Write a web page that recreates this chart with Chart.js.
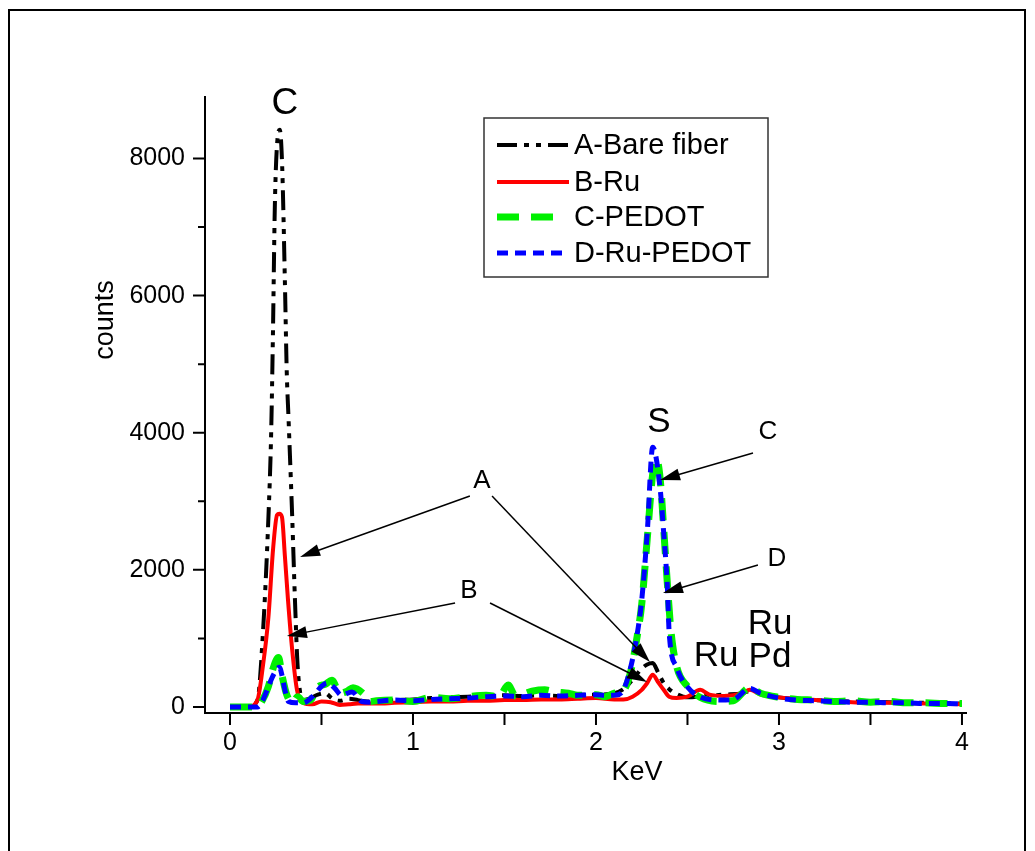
<!DOCTYPE html>
<html>
<head>
<meta charset="utf-8">
<script src="https://cdn.jsdelivr.net/npm/chart.js@4.4.1/dist/chart.umd.min.js"></script>
<style>
  html, body { margin: 0; padding: 0; background: #fff; }
  #wrap { width: 1035px; height: 851px; position: relative; }
</style>
</head>
<body>
<div id="wrap"><canvas id="edsChart"></canvas></div>
<script>
// EDS spectra (KeV vs counts)
const keV_A = [0, 0.05, 0.10, 0.15, 0.18, 0.21, 0.225, 0.235, 0.245, 0.26, 0.272, 0.285, 0.30, 0.31, 0.32, 0.34, 0.355, 0.37, 0.40, 0.44, 0.48, 0.52, 0.56, 0.60, 0.65, 0.70, 0.75, 0.80, 0.90, 1.0, 1.1, 1.2, 1.3, 1.4, 1.5, 1.6, 1.7, 1.8, 1.9, 2.0, 2.1, 2.15, 2.2, 2.25, 2.28, 2.31, 2.34, 2.37, 2.40, 2.44, 2.5, 2.6, 2.7, 2.8, 2.85, 2.9, 3.0, 3.2, 3.4, 3.6, 3.8, 4.0];
const counts_A = [0, 0, 0, 100, 1080, 2770, 4000, 5500, 7300, 8300, 8420, 7900, 6200, 4900, 4200, 2770, 1560, 580, 100, 130, 180, 200, 120, 90, 120, 100, 80, 80, 100, 110, 130, 140, 150, 160, 170, 160, 170, 160, 180, 180, 200, 260, 400, 560, 620, 640, 500, 350, 260, 190, 140, 160, 180, 200, 240, 200, 140, 100, 80, 70, 60, 50];

const keV_B = [0, 0.05, 0.10, 0.15, 0.18, 0.21, 0.235, 0.257, 0.27, 0.284, 0.30, 0.317, 0.34, 0.366, 0.40, 0.45, 0.5, 0.55, 0.6, 0.65, 0.7, 0.8, 0.9, 1.0, 1.1, 1.2, 1.3, 1.4, 1.5, 1.6, 1.7, 1.8, 1.9, 2.0, 2.1, 2.15, 2.2, 2.25, 2.28, 2.31, 2.34, 2.37, 2.40, 2.44, 2.5, 2.57, 2.62, 2.7, 2.8, 2.84, 2.9, 3.0, 3.2, 3.4, 3.6, 3.8, 4.0];
const counts_B = [0, 0, 0, 100, 600, 1310, 2290, 2800, 2820, 2770, 2200, 1560, 830, 250, 60, 40, 80, 70, 30, 40, 50, 50, 60, 70, 80, 80, 90, 90, 100, 100, 110, 110, 120, 130, 110, 110, 150, 250, 350, 470, 360, 250, 150, 130, 150, 250, 180, 160, 200, 250, 180, 140, 100, 70, 60, 50, 40];

const keV_C = [0, 0.05, 0.10, 0.15, 0.17, 0.21, 0.24, 0.265, 0.285, 0.31, 0.34, 0.37, 0.40, 0.44, 0.48, 0.52, 0.557, 0.6, 0.64, 0.672, 0.727, 0.765, 0.8, 0.9, 1.0, 1.1, 1.2, 1.3, 1.4, 1.47, 1.52, 1.56, 1.65, 1.72, 1.78, 1.85, 1.9, 2.0, 2.05, 2.1, 2.15, 2.19, 2.22, 2.25, 2.28, 2.31, 2.33, 2.35, 2.37, 2.39, 2.41, 2.44, 2.5, 2.57, 2.68, 2.75, 2.84, 2.9, 3.0, 3.1, 3.2, 3.3, 3.4, 3.5, 3.6, 3.7, 3.8, 3.9, 4.0];
const counts_C = [0, 0, 0, 0, 60, 300, 600, 720, 450, 180, 60, 150, 80, 100, 290, 330, 390, 200, 230, 280, 200, 80, 90, 100, 80, 140, 120, 150, 170, 150, 320, 160, 230, 250, 220, 200, 170, 180, 150, 200, 240, 520, 950, 1500, 2450, 3400, 3620, 3350, 2600, 1800, 1100, 600, 300, 140, 80, 90, 280, 200, 140, 110, 100, 80, 90, 70, 80, 60, 60, 50, 50];

const keV_D = [0, 0.05, 0.10, 0.15, 0.18, 0.21, 0.24, 0.27, 0.285, 0.30, 0.32, 0.36, 0.40, 0.45, 0.5, 0.53, 0.57, 0.61, 0.667, 0.72, 0.76, 0.8, 0.9, 1.0, 1.1, 1.2, 1.3, 1.4, 1.5, 1.6, 1.7, 1.8, 1.9, 2.0, 2.05, 2.11, 2.15, 2.186, 2.22, 2.25, 2.28, 2.31, 2.35, 2.37, 2.39, 2.40, 2.44, 2.5, 2.57, 2.68, 2.75, 2.84, 2.9, 3.0, 3.1, 3.2, 3.3, 3.4, 3.5, 3.6, 3.7, 3.8, 3.9, 4.0];
const counts_D = [0, 0, 0, 0, 100, 300, 480, 580, 450, 250, 80, 60, 60, 150, 300, 350, 280, 170, 220, 80, 70, 80, 100, 90, 110, 120, 130, 150, 160, 150, 170, 160, 170, 180, 170, 175, 250, 540, 980, 1560, 2540, 3790, 3200, 2540, 1750, 1080, 580, 290, 146, 100, 110, 270, 200, 130, 100, 90, 80, 70, 70, 60, 60, 50, 50, 45];

const seriesNames = ["A-Bare fiber", "B-Ru", "C-PEDOT", "D-Ru-PEDOT"];
const xTickLabels = [0, 1, 2, 3, 4];
const yTickLabels = [0, 2000, 4000, 6000, 8000];

// text labels placed in data units [keV, counts]
const peakLabels = [
  { text: "C", x: 0.30, y: 8800, size: 37 },
  { text: "S", x: 2.344, y: 4150, size: 35 },
  { text: "Ru", x: 2.656, y: 740, size: 35 },
  { text: "Ru", x: 2.951, y: 1210, size: 35 },
  { text: "Pd", x: 2.951, y: 730, size: 35 },
  { text: "A", x: 1.377, y: 3296, size: 26 },
  { text: "B", x: 1.306, y: 1692, size: 26 },
  { text: "C", x: 2.940, y: 4011, size: 26 },
  { text: "D", x: 2.989, y: 2159, size: 26 }
];
const arrows = [
  [1.311, 3077, 0.383, 2188],
  [1.230, 1517, 0.311, 1036],
  [1.432, 3077, 2.295, 656],
  [1.421, 1517, 2.279, 365],
  [2.858, 3705, 2.350, 3311],
  [2.885, 2071, 2.366, 1663]
];

function toPoints(xs, ys) {
  return xs.map((x, i) => ({ x: x, y: ys[i] }));
}

const FONT = "'Liberation Sans', Arial, sans-serif";

const styleA = { borderColor: "#000000", borderWidth: 4, borderDash: [20, 7, 5, 7, 5, 7] };
const styleB = { borderColor: "#ff0000", borderWidth: 4, borderDash: [] };
const styleC = { borderColor: "#00f000", borderWidth: 7, borderDash: [22, 12] };
const styleD = { borderColor: "#0000ff", borderWidth: 5, borderDash: [11, 7] };
const styles = [styleA, styleB, styleC, styleD];

function drawArrow(ctx, x1, y1, x2, y2) {
  const ang = Math.atan2(y2 - y1, x2 - x1);
  const len = 20, half = 6;
  ctx.beginPath();
  ctx.moveTo(x1, y1);
  ctx.lineTo(x2 - Math.cos(ang) * len * 0.8, y2 - Math.sin(ang) * len * 0.8);
  ctx.stroke();
  ctx.beginPath();
  ctx.moveTo(x2, y2);
  ctx.lineTo(x2 - len * Math.cos(ang) + half * Math.sin(ang), y2 - len * Math.sin(ang) - half * Math.cos(ang));
  ctx.lineTo(x2 - len * Math.cos(ang) - half * Math.sin(ang), y2 - len * Math.sin(ang) + half * Math.cos(ang));
  ctx.closePath();
  ctx.fill();
}

const decorPlugin = {
  id: "decor",
  afterDraw(chart) {
    const ctx = chart.ctx;
    const xs = chart.scales.x, ys = chart.scales.y;
    const area = chart.chartArea;
    ctx.save();

    // outer frame
    ctx.strokeStyle = "#000";
    ctx.lineWidth = 2;
    ctx.strokeRect(9, 10, 1016, 900);

    // tick marks
    ctx.lineWidth = 2;
    ctx.beginPath();
    for (let v = 0; v <= 4.001; v += 0.5) {
      const px = xs.getPixelForValue(v);
      ctx.moveTo(px, area.bottom);
      ctx.lineTo(px, area.bottom + 12);
    }
    for (let v = 0; v <= 8000; v += 1000) {
      const py = ys.getPixelForValue(v);
      const major = v % 2000 === 0;
      ctx.moveTo(area.left, py);
      ctx.lineTo(area.left - (major ? 12 : 7), py);
    }
    ctx.stroke();

    // axis titles
    ctx.fillStyle = "#000";
    ctx.font = "27px " + FONT;
    ctx.textAlign = "center";
    ctx.textBaseline = "middle";
    ctx.fillText("KeV", 637, 773);
    ctx.save();
    ctx.translate(106, 320);
    ctx.rotate(-Math.PI / 2);
    ctx.fillText("counts", 0, 0);
    ctx.restore();

    // peak labels and letters
    peakLabels.forEach((l) => {
      ctx.font = l.size + "px " + FONT;
      ctx.fillText(l.text, xs.getPixelForValue(l.x), ys.getPixelForValue(l.y));
    });

    // arrows
    ctx.lineWidth = 1.5;
    ctx.strokeStyle = "#000";
    arrows.forEach((a) => {
      drawArrow(ctx, xs.getPixelForValue(a[0]), ys.getPixelForValue(a[1]),
        xs.getPixelForValue(a[2]), ys.getPixelForValue(a[3]));
    });

    // legend box
    const lx = 484, ly = 118, lw = 284, lh = 159;
    ctx.fillStyle = "#fff";
    ctx.fillRect(lx, ly, lw, lh);
    ctx.strokeStyle = "#333";
    ctx.lineWidth = 1.5;
    ctx.strokeRect(lx, ly, lw, lh);
    const rowY = [145, 182, 217, 253];
    ctx.font = "29px " + FONT;
    ctx.textAlign = "left";
    seriesNames.forEach((name, i) => {
      const st = styles[i];
      ctx.save();
      ctx.beginPath();
      ctx.rect(497, rowY[i] - 10, i === 2 ? 58 : 72, 20);
      ctx.clip();
      ctx.strokeStyle = st.borderColor;
      ctx.lineWidth = st.borderWidth;
      ctx.setLineDash(st.borderDash);
      ctx.beginPath();
      ctx.moveTo(497, rowY[i]);
      ctx.lineTo(569, rowY[i]);
      ctx.stroke();
      ctx.restore();
      ctx.fillStyle = "#000";
      ctx.fillText(name, 574, rowY[i] + 1);
    });
    ctx.restore();
  }
};

const ctx = document.getElementById("edsChart");

const myChart = new Chart(ctx, {
  type: "scatter",
  data: {
    datasets: [
      { label: seriesNames[0], data: toPoints(keV_A, counts_A), order: 4, ...styleA },
      { label: seriesNames[1], data: toPoints(keV_B, counts_B), order: 3, ...styleB },
      { label: seriesNames[2], data: toPoints(keV_C, counts_C), order: 2, ...styleC },
      { label: seriesNames[3], data: toPoints(keV_D, counts_D), order: 1, ...styleD }
    ].map((d) => Object.assign(d, {
      showLine: true,
      pointRadius: 0,
      fill: false,
      cubicInterpolationMode: "monotone",
      borderCapStyle: "butt"
    }))
  },
  options: {
    responsive: true,
    maintainAspectRatio: false,
    animation: false,
    layout: { padding: { left: 0, top: 97, right: 69, bottom: 0 } },
    plugins: {
      legend: { display: false },
      tooltip: { enabled: false }
    },
    scales: {
      x: {
        type: "linear",
        min: -0.1366,
        max: 4.022,
        afterFit: (scale) => { scale.height = 851 - 713; },
        afterBuildTicks: (scale) => { scale.ticks = xTickLabels.map((v) => ({ value: v })); },
        grid: { drawOnChartArea: false, drawTicks: true, tickLength: 12, color: "rgba(0,0,0,0)" },
        border: { display: true, color: "#000", width: 2 },
        ticks: {
          color: "#000",
          padding: 3,
          maxRotation: 0,
          font: { family: FONT, size: 25 },
          callback: (v) => String(v)
        }
      },
      y: {
        type: "linear",
        min: -88,
        max: 8897,
        afterFit: (scale) => { scale.width = 205; },
        afterBuildTicks: (scale) => { scale.ticks = yTickLabels.map((v) => ({ value: v })); },
        grid: { drawOnChartArea: false, drawTicks: true, tickLength: 12, color: "rgba(0,0,0,0)" },
        border: { display: true, color: "#000", width: 2 },
        ticks: {
          color: "#000",
          padding: 8,
          font: { family: FONT, size: 25 },
          callback: (v) => String(v)
        }
      }
    }
  },
  plugins: [decorPlugin]
});
</script>
</body>
</html>
